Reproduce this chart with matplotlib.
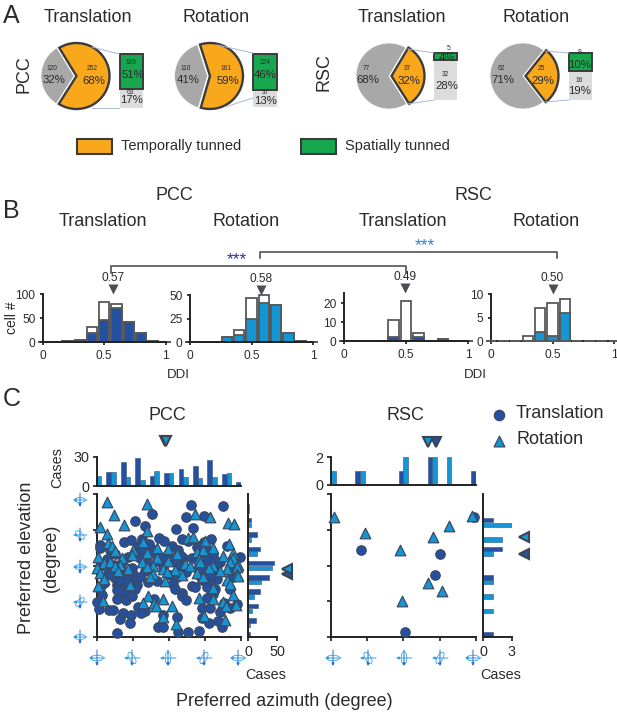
import matplotlib
matplotlib.use("Agg")
import matplotlib.pyplot as plt
from matplotlib.patches import Ellipse

plt.rcParams['font.family'] = ['Liberation Sans', 'DejaVu Sans']

W, H = 617, 714
ORANGE = '#f9a81c'
GREEN = '#17a84f'
GRAY = '#a8a8a8'
LGRAY = '#dcdcdc'
DARK = '#3b3b3b'
BLUE_T = '#25509f'
BLUE_R = '#1496d4'
TXT = '#2b2b2b'

# panel A
pie_pairs = [(252, 120), (161, 110), (37, 77), (25, 62)]
pie_fracs = [0.68, 0.59, 0.32, 0.29]
pie_labels = [('252', '68%', '120', '32%'), ('161', '59%', '110', '41%'),
              ('37', '32%', '77', '68%'), ('25', '29%', '62', '71%')]
inset_green = [34, 35, 7, 18]   # drawn height in the picture, not to count scale
inset_gray = [19, 17, 38, 28]

# panel B
bins = [0, .1, .2, .3, .4, .5, .6, .7, .8, .9, 1]
ddi_total = [[0, 1, 3, 5, 31, 83, 79, 41, 18, 3, 0],
             [0, 0, 0, 5, 13, 47, 50, 39, 10, 1, 0],
             [0, 0, 0, 0, 11, 21, 4, 0, 1, 0, 0],
             [0, 0, 0, 1, 7, 8, 9, 0, 0, 0, 0]]
ddi_sig = [[0, 1, 3, 5, 18, 45, 70, 41, 18, 3, 0],
           [0, 0, 0, 5, 7, 24, 41, 39, 10, 1, 0],
           [0, 0, 0, 0, 2, 0, 2, 0, 1, 0, 0],
           [0, 0, 0, 0, 2, 1, 6, 0, 0, 0, 0]]
ddi_means = [0.57, 0.58, 0.49, 0.50]

# panel C, PCC
pcc_t_az = [236, 316, 137, 224, 268, 95, 121, 197, 241, 7, 68, 85, 112, 155, 168, 212, 229, 284, 268, 125,
            8, 33, 104, 137, 187, 203, 249, 278, 324,
            46, 79, 100, 125, 179, 215, 262, 291, 357,
            25, 62, 108, 150, 195, 237, 274, 308, 341,
            8, 42, 87, 129, 166, 208, 258, 299,
            29, 62, 91, 121, 183, 224, 270, 291, 333,
            46, 71, 87, 108, 150, 200, 258, 299, 341,
            17, 50, 75, 100, 129, 191, 237, 279,
            8, 62, 87, 195, 245, 291, 333,
            12, 79, 212, 291,
            36, 54, 58, 66, 75, 79, 95, 40, 50,
            252, 262, 275, 285, 295, 283,
            115, 130, 140, 160, 210, 258, 270, 300,
            51, 152, 166, 202, 229, 255, 262, 312, 280, 303, 58, 65, 85, 83, 102, 121, 110, 166, 201,
            262, 283, 308, 333, 351, 6, 0, 31, 40, 50, 73, 87, 143, 212, 223, 274, 318]
pcc_t_el = [76, 75, 65, 61, 62, 56, 50, 46, 47, 26, 29, 32, 33, 34, 31, 33, 31, 33, 29, 24,
            22, 19, 24, 21, 25, 20, 23, 19, 24,
            14, 11, 16, 12, 15, 10, 17, 13, 11,
            8, 5, 10, 6, 4, 9, 7, 5, 10,
            -1, 1, -3, 2, -2, 0, -4, 1,
            -9, -6, -11, -7, -12, -8, -6, -10, -7,
            -16, -13, -18, -14, -19, -15, -13, -17, -14,
            -22, -24, -20, -25, -21, -23, -26, -20,
            -28, -31, -26, -30, -27, -32, -29,
            -37, -35, -34, -36,
            -12, -26, -18, -33, -13, -22, -30, -5, -31,
            -5, -18, -27, -12, -30, -38,
            20, 27, 17, 10, 12, 24, 18, 5,
            -85, -78, -77, -84, -84, -82, -66, -77, -72, -70, -67, -60, -62, -72, -52, -57, -60, -62, -65,
            -53, -54, -58, -53, -48, -55, -46, -56, -56, -42, -43, -39, -42, -39, -43, -41, -47]
pcc_r_az = [25, 126, 43, 245, 283, 68, 8, 328, 343, 25, 126, 229, 241, 29, 37, 116, 150, 270, 330,
            46, 91, 125, 179, 249, 266, 291, 341,
            4, 62, 87, 150, 200, 254, 316, 341,
            17, 33, 58, 112, 141, 179, 220, 258, 291, 333, 353,
            0, 46, 79, 125, 166, 195, 233, 279, 324, 349,
            8, 54, 141, 175, 212, 249, 308, 351,
            17, 133, 170, 266, 324, 353,
            4, 83, 291, 333,
            129, 165, 341, 254, 291, 143, 148, 115, 15, 187, 316, 348, 323, 166, 197, 268, 320]
pcc_r_el = [80, 78, 63, 65, 61, 51, 48, 53, 52, 40, 44, 35, 36, 28, 24, 29, 22, 31, 27,
            18, 20, 16, 21, 17, 19, 22, 16,
            11, 9, 13, 10, 14, 8, 12, 10,
            3, 5, 1, 4, 0, 6, 2, 5, -1, 4, 1,
            -3, -1, -5, -2, -4, -6, -1, -3, -5, -2,
            -9, -7, -11, -8, -12, -10, -7, -11,
            -17, -14, -19, -15, -18, -13,
            -26, -24, -28, -23,
            -39, -42, -37, -41, -42, -47, -51, -47, -45, -51, -46, -50, -51, -65, -74, -64, -68]
az_bins = [0, 36, 72, 108, 144, 180, 216, 252, 288, 324, 360]
el_bins = [-90, -72, -54, -36, -18, 0, 18, 36, 54, 72, 90]
pcc_az_t = [0, 15, 25, 29, 10, 13, 18, 21, 27, 12, 4]
pcc_az_r = [10, 14, 9, 6, 16, 13, 9, 8, 9, 13, 0]
pcc_el_t = [4, 13, 18, 21, 37, 44, 21, 15, 6, 2, 0]
pcc_el_r = [0, 4, 7, 10, 23, 42, 16, 6, 6, 2, 0]
pcc_mean_az = (170, 172)
pcc_mean_el = (-11, -4)

# panel C, RSC
rsc_t_az = [75, 270, 259, 185, 356]
rsc_t_el = [19, 15, -12, -84, 61]
rsc_r_az = [8, 85, 172, 254, 293, 242, 275, 177, 352]
rsc_r_el = [61, 41, 20, 36, 50, -22, -32, -45, 62]
rsc_az_t = [0, 0, 1, 0, 0, 1, 0, 2, 0, 0, 1]
rsc_az_r = [1, 0, 1, 0, 0, 2, 0, 2, 2, 0, 0]
rsc_el_t = [1, 0, 0, 0, 1, 0, 2, 0, 1, 0, 0]
rsc_el_r = [0, 0, 1, 1, 1, 0, 1, 2, 3, 0, 0]
rsc_mean_az = (261, 242)
rsc_mean_el = (14, 36)

fig = plt.figure(figsize=(W / 100, H / 100), dpi=100)


def px_axes(x0, y0, x1, y1):
    return fig.add_axes([x0 / W, 1 - y1 / H, (x1 - x0) / W, (y1 - y0) / H])


# overlay in picture pixels for the labels, brackets and icons
ov = px_axes(0, 0, W, H)
ov.set_xlim(0, W)
ov.set_ylim(H, 0)
ov.axis('off')
ov.set_zorder(10)
ov.patch.set_alpha(0)


def txt(x, y, s, size=13, color=TXT, **kw):
    kw.setdefault('ha', 'center')
    kw.setdefault('va', 'center')
    ov.text(x, y, s, fontsize=size, color=color, **kw)


# ---- A
pie_x = [75, 208.5, 390, 524]
inset_box = [(119.5, 143), (253, 277), (434, 457), (569, 592)]
inset_top = [54, 54, 53, 53]
inset_bot = [108, 107, 100, 100]
link_lines = [((92, 47), (119, 54), (92, 108), (119, 108)),
              ((217, 45), (253, 53), (225, 107), (253, 98)),
              ((408, 49), (434, 53), (408, 104), (434, 100)),
              ((545, 51), (569, 53), (545, 102), (569, 100))]
R = 33
for i in range(4):
    cx = pie_x[i]
    ax = px_axes(cx - 1.25 * R, 76 - 1.25 * R, cx + 1.25 * R, 76 + 1.25 * R)
    start = -180 * pie_fracs[i]
    wed, _ = ax.pie(pie_pairs[i], colors=[ORANGE, GRAY], startangle=start, explode=(0.045, 0.03), radius=1,
                    wedgeprops=dict(linewidth=0))
    wed[0].set_edgecolor(DARK)
    wed[0].set_linewidth(1.7)
    wed[1].set_edgecolor('white')
    wed[1].set_linewidth(0.5)
    ax.set_xlim(-1.25, 1.25)
    ax.set_ylim(-1.25, 1.25)

    x0, x1 = inset_box[i]
    ax = px_axes(x0, inset_top[i], x1, inset_bot[i])
    ax.bar([0], [inset_gray[i]], width=1, color=LGRAY)
    ax.bar([0], [inset_green[i]], bottom=[inset_gray[i]], width=0.97, color=GREEN, edgecolor=DARK, linewidth=1.4,
           clip_on=False)
    ax.set_xlim(-0.5, 0.5)
    ax.set_ylim(0, inset_gray[i] + inset_green[i])
    ax.axis('off')

    a, b, c, d = link_lines[i]
    ov.plot([a[0], b[0]], [a[1], b[1]], color='#aab8d2', lw=0.7)
    ov.plot([c[0], d[0]], [c[1], d[1]], color='#aab8d2', lw=0.7)

    n_o, p_o, n_g, p_g = pie_labels[i]
    dxo = [92, 226, 407, 541][i]
    dxg = [52, 186, 366, 501][i]
    txt(dxo, 69, n_o, 4.8)
    txt(dxo + 2, 81, p_o, 8.2)
    txt(dxg, 68, n_g, 4.8)
    txt(dxg + 2, 80, p_g, 8.2)

inset_txt = [(131, 62, '189', 4.8), (133, 75, '51%', 8.2), (130, 92, '63', 4.8), (132, 100, '17%', 8.2),
             (265, 62, '124', 4.8), (265, 75, '46%', 8.2), (265, 92, '37', 4.8), (266, 101, '13%', 8.2),
             (449, 48, '5', 4.8), (447, 58, '4%', 8.2), (445, 74, '32', 4.8), (447, 86, '28%', 8.2),
             (580, 53, '9', 4.8), (580, 65, '10%', 8.2), (579, 80, '16', 4.8), (580, 91, '19%', 8.2)]
for x, y, s, fs in inset_txt:
    txt(x, y, s, fs)

txt(3, 16, 'A', 18, ha='left')
for x, s in zip([88, 216, 402, 536], ['Translation', 'Rotation', 'Translation', 'Rotation']):
    txt(x, 17, s)
txt(24, 74, 'PCC', rotation=90)
txt(324, 72, 'RSC', rotation=90)

ov.add_patch(plt.Rectangle((76.5, 138.5), 35, 15, fc=ORANGE, ec=DARK, lw=1.5))
ov.add_patch(plt.Rectangle((301, 138.5), 35, 15, fc=GREEN, ec=DARK, lw=1.5))
txt(121, 146, 'Temporally tunned', 10.5, ha='left')
txt(345, 146, 'Spatially tunned', 10.5, ha='left')

# ---- B
b_x = [(43, 165.5), (190, 313), (344, 468), (491, 614)]
b_y = [(342, 294), (342, 295), (341, 293), (341, 294)]
b_ymax = [100, 50, 25.3, 10]
b_ticks = [[0, 50, 100], [0, 25, 50], [0, 10, 20], [0, 5, 10]]
b_col = [BLUE_T, BLUE_R, BLUE_T, BLUE_R]
for i in range(4):
    ax = px_axes(b_x[i][0], b_y[i][1], b_x[i][1], b_y[i][0])
    z = 3 if i == 3 else 1   # last panel shows its empty bins over the axis line
    ax.bar(bins, ddi_total[i], width=0.085, color='white', edgecolor='#595959', linewidth=1.3, clip_on=False,
           zorder=z)
    ax.bar(bins, ddi_sig[i], width=0.085, color=b_col[i], edgecolor='#595959', linewidth=1.3, clip_on=False,
           zorder=z)
    ax.set_xlim(0, 1)
    ax.set_ylim(0, b_ymax[i])
    ax.set_xticks([0, 0.5, 1], ['0', '0.5', '1'])
    ax.set_yticks(b_ticks[i])
    ax.tick_params(labelsize=8.6, length=2.5, width=1.3, pad=3, colors=TXT)
    for s in ['top', 'right']:
        ax.spines[s].set_visible(False)
    for s in ['left', 'bottom']:
        ax.spines[s].set_linewidth(1.4)
        ax.spines[s].set_color('#222222')
    ax.plot([ddi_means[i]], [1.10], marker='v', ms=6.5, color='#4a4f55', mec='none',
            transform=ax.get_xaxis_transform(), clip_on=False)
    ax.text(ddi_means[i], 1.33, '%.2f' % ddi_means[i], fontsize=8.6, color=TXT, ha='center', va='center',
            transform=ax.get_xaxis_transform())

ov.plot([111, 111, 406, 406], [273, 266, 266, 273], color='#444444', lw=1.1)
ov.plot([260, 260, 557, 557], [258, 252, 252, 258], color='#444444', lw=1.1)
txt(237, 260, '***', 12.5, color='#2b2f8f')
txt(425, 246, '***', 12.5, color='#2f7fc4')
txt(3, 211, 'B', 18, ha='left')
txt(174, 196, 'PCC')
txt(473, 196, 'RSC')
for x, s in zip([103, 246, 403, 546], ['Translation', 'Rotation', 'Translation', 'Rotation']):
    txt(x, 222, s)
txt(12, 318, 'cell #', 10, rotation=90)
txt(178, 375, 'DDI', 9.5)
txt(475, 375, 'DDI', 9.5)


# ---- C
def style(ax, sides):
    for s in ['top', 'right', 'left', 'bottom']:
        ax.spines[s].set_visible(s in sides)
        ax.spines[s].set_linewidth(1.4)
        ax.spines[s].set_color('#222222')
    ax.tick_params(labelsize=10.4, length=3, width=1.3, pad=2.5, colors=TXT)


def panel(x0, x1, hx0, hx1, top, ticks_top, ticks_right, y_hist_top, y_hist0, t_az, t_el, r_az, r_el,
          az_t, az_r, el_t, el_r, mean_az, mean_el, tri_x):
    main = px_axes(x0, 494, x1, 637)
    main.scatter(t_az, t_el, s=46, marker='o', color=BLUE_T, edgecolor='#3a4a63', linewidth=0.9, clip_on=False,
                 zorder=3)
    main.scatter(r_az, r_el, s=58, marker='^', color=BLUE_R, edgecolor='#3a4a63', linewidth=0.9, clip_on=False,
                 zorder=4)
    main.set_xlim(0, 360)
    main.set_ylim(-90, 90)
    main.set_xticks([0, 90, 180, 270, 360], [])
    main.set_yticks([-90, -45, 0, 45, 90], [])
    style(main, ['left', 'bottom'])

    t = px_axes(x0, y_hist_top, x1, y_hist0)
    t.bar([a - 5.8 for a in az_bins], az_t, width=11.6, color=BLUE_T, edgecolor='#34507f', linewidth=0.4)
    t.bar([a + 5.8 for a in az_bins], az_r, width=11.6, color=BLUE_R, edgecolor='#34507f', linewidth=0.4)
    t.set_xlim(0, 360)
    t.set_ylim(0, top)
    t.set_xticks([])
    t.set_yticks(ticks_top)
    style(t, ['left', 'bottom'])
    for a, c, in zip(mean_az, [BLUE_T, BLUE_R]):
        t.plot([a], [1.55], marker='v', ms=7, color=c, mec='#3b4450', mew=1.5,
               transform=t.get_xaxis_transform(), clip_on=False)

    r = px_axes(hx0, 494, hx1, 637)
    r.barh([e + 3 for e in el_bins], el_t, height=5.6, color=BLUE_T, edgecolor='#34507f', linewidth=0.4)
    r.barh([e - 3 for e in el_bins], el_r, height=5.6, color=BLUE_R, edgecolor='#34507f', linewidth=0.4)
    r.set_ylim(-90, 90)
    r.set_xlim(0, ticks_right[-1])
    r.set_xticks(ticks_right)
    r.set_yticks([])
    style(r, ['left', 'bottom'])
    for e, c in zip(mean_el, [BLUE_T, BLUE_R]):
        r.plot([tri_x], [e], marker='<', ms=7, color=c, mec='#3b4450', mew=1.5,
               transform=r.get_yaxis_transform(), clip_on=False)


panel(96.7, 241, 248, 277, 30, [0, 30], [0, 50], 457, 486, pcc_t_az, pcc_t_el, pcc_r_az, pcc_r_el,
      pcc_az_t, pcc_az_r, pcc_el_t, pcc_el_r, pcc_mean_az, pcc_mean_el, 1.36)
panel(331, 475.7, 483, 512, 2, [0, 2], [0, 3], 457, 485, rsc_t_az, rsc_t_el, rsc_r_az, rsc_r_el,
      rsc_az_t, rsc_az_r, rsc_el_t, rsc_el_r, rsc_mean_az, rsc_mean_el, 1.42)


def icon(x, y, tilt=0, size=8):
    ov.annotate('', xy=(x - size, y), xytext=(x + size, y),
                arrowprops=dict(arrowstyle='-|>', color='#2f9fe6', lw=0.7, mutation_scale=4, shrinkA=0, shrinkB=0))
    ov.annotate('', xy=(x, y + size), xytext=(x, y - size),
                arrowprops=dict(arrowstyle='-|>', color='#2b6cc4', lw=0.7, mutation_scale=4, shrinkA=0, shrinkB=0))
    ov.add_patch(Ellipse((x, y), size * 1.6, size * 0.7, angle=tilt, fill=False, ec='#3aa5ea', lw=0.6))


for x, tilt in zip([97, 132, 168, 204, 238], [0, 60, 90, 120, 0]):
    icon(x, 658, tilt)
for x, tilt in zip([333, 368, 404, 440, 473], [0, 60, 90, 120, 0]):
    icon(x, 658, tilt)
for y, tilt in zip([500, 535, 567, 602, 637], [0, 45, 0, -45, 0]):
    icon(80, y, tilt, 7)

txt(3, 399, 'C', 18, ha='left')
txt(167, 415, 'PCC')
txt(405, 415, 'RSC')
txt(57, 468, 'Cases', 10.4, rotation=90)
txt(266, 675, 'Cases', 10.4)
txt(501, 675, 'Cases', 10.4)
txt(27, 558, 'Preferred elevation', rotation=90)
txt(51, 558, '(degree)', rotation=90)
txt(284, 702, 'Preferred azimuth (degree)')

ov.scatter([499], [415], s=55, marker='o', color=BLUE_T, edgecolor='#3a4a63', linewidth=0.9)
ov.scatter([499], [441], s=60, marker='^', color=BLUE_R, edgecolor='#3a4a63', linewidth=0.9)
txt(516, 414, 'Translation', ha='left')
txt(516, 440, 'Rotation', ha='left')

fig.savefig('out.png', dpi=100)
